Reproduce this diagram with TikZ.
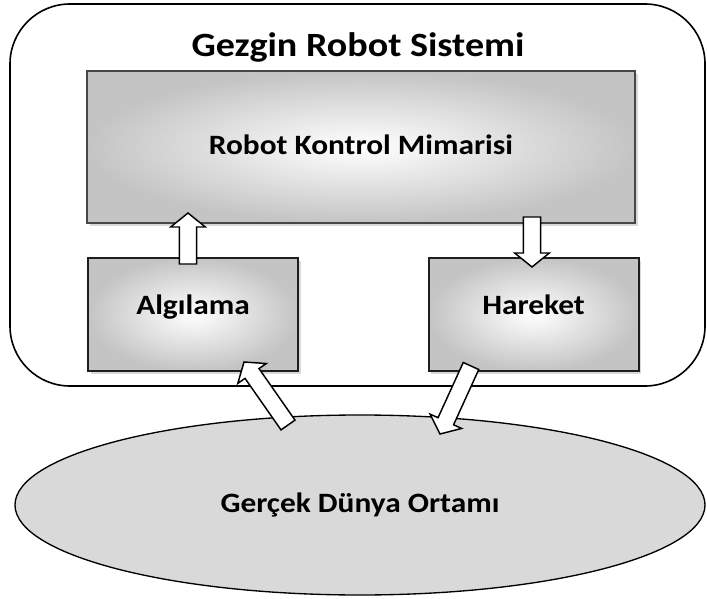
\documentclass[tikz,border=0pt]{standalone}
\usepackage{fontspec}
\setmainfont[FakeStretch=1.12]{Carlito}
\usetikzlibrary{shapes.geometric,shadows,calc}

% hollow block arrow from #1 to #2
\newcommand{\bosok}[2]{%
 \coordinate (tb) at ($(#2)!10.5pt!(#1)$);
 \draw[ok] ($(#1)!6.4pt!90:(#2)$) -- ($(tb)!6.4pt!90:(#2)$) -- ($(tb)!13pt!90:(#2)$) -- (#2)
   -- ($(tb)!13pt!-90:(#2)$) -- ($(tb)!6.4pt!-90:(#2)$) -- ($(#1)!6.4pt!-90:(#2)$) -- cycle;
}

\begin{document}
\begin{tikzpicture}[x=0.75pt,y=0.75pt,yscale=-1,xscale=1,
  kutu/.style={draw={rgb,255:red,30;green,30;blue,30},line width=1.5,inner color=white,outer color={rgb,255:red,196;green,196;blue,196},inner sep=0,drop shadow={shadow xshift=2pt,shadow yshift=-2pt,opacity=0.3}},
  etiket/.style={font=\fontsize{21}{24}\selectfont\bfseries},
  ok/.style={draw=black,fill=white,line width=1.1,line join=miter}]
 \useasboundingbox (0,0) rectangle (707,599);

 %Shape: Rounded Rect [id:sistem]
 \node (sistem) [draw,line width=1.2,rounded corners=45pt,inner sep=0,minimum width=521.25pt,minimum height=286.5pt] at (357.5,195) {};
 % Text Node
 \node (baslik) [font=\fontsize{25.5}{28}\selectfont\bfseries,anchor=base] at (358,57) {Gezgin Robot Sistemi};

 %Shape: Rectangle [id:kontrol]
 \node (kontrol) [kutu,etiket,draw={rgb,255:red,70;green,70;blue,70},text depth=3pt,minimum width=411pt,minimum height=114pt] at (361,147) {Robot Kontrol Mimarisi};
 %Shape: Rectangle [id:algi]
 \node (algi) [kutu,etiket,text height=10pt,text depth=10pt,minimum width=157.5pt,minimum height=85pt] at (193,314.5) {Algılama};
 %Shape: Rectangle [id:hareket]
 \node (hareket) [kutu,etiket,text height=10pt,text depth=10pt,minimum width=157.5pt,minimum height=85pt] at (533.5,314.5) {Hareket};

 %Shape: Ellipse [id:ortam]
 \node (ortam) [ellipse,draw,line width=1,fill={rgb,255:red,217;green,217;blue,217},inner sep=0,minimum width=517.5pt,minimum height=135pt,etiket] at (360,505) {Gerçek Dünya Ortamı};

 % Arrow ends
 \coordinate (u1) at (188,264);
 \coordinate (u2) at (188,213);
 \coordinate (d1) at (532,217);
 \coordinate (d2) at (532,267);
 \coordinate (g1) at (288,425);
 \coordinate (g2) at (244,362);
 \coordinate (c1) at (471,366);
 \coordinate (c2) at (440,434);

 %Block Arrows
 \bosok{u1}{u2}
 \bosok{d1}{d2}
 \bosok{g1}{g2}
 \bosok{c1}{c2}

\end{tikzpicture}
\end{document}
